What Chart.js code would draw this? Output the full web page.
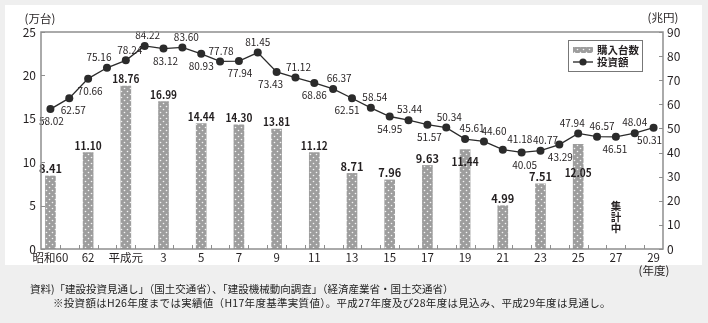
<!DOCTYPE html>
<html lang="ja">
<head>
<meta charset="UTF-8">
<title>建設投資額と建設機械購入台数の推移</title>
<script src="https://cdn.jsdelivr.net/npm/chart.js@4.4.1/dist/chart.umd.min.js"></script>
<style>
  html, body { margin: 0; padding: 0; background: #fff; }
  #wrap { position: relative; width: 708px; height: 323px; font-family: "Noto Sans CJK JP", sans-serif; }
  canvas { display: block; }
  .note { position: absolute; font-size: 10.5px; color: #222; white-space: nowrap; line-height: 1; }
</style>
</head>
<body>
<div id="wrap">
  <canvas id="chart" width="708" height="323"></canvas>
  <div class="note" style="left:30px; top:284px;">資料)「建設投資見通し」（国土交通省）、「建設機械動向調査」（経済産業省・国土交通省）</div>
  <div class="note" style="left:53px; top:298px; letter-spacing:0.3px;">※投資額はH26年度までは実績値（H17年度基準実質値）。平成27年度及び28年度は見込み、平成29年度は見通し。</div>
</div>
<script>
// 年度（昭和60年度〜平成29年度）
const years = ['昭和60', '61', '62', '63', '平成元', '2', '3', '4', '5', '6', '7', '8', '9', '10',
  '11', '12', '13', '14', '15', '16', '17', '18', '19', '20', '21', '22', '23', '24', '25', '26',
  '27', '28', '29'];

// 建設機械 購入台数（万台）: 隔年調査
const units = [8.41, null, 11.10, null, 18.76, null, 16.99, null, 14.44, null, 14.30, null,
  13.81, null, 11.12, null, 8.71, null, 7.96, null, 9.63, null, 11.44, null, 4.99, null,
  7.51, null, 12.05, null, null, null, null];

// 建設投資額（兆円）
const invest = [58.02, 62.57, 70.66, 75.16, 78.24, 84.22, 83.12, 83.60, 80.93, 77.78, 77.94,
  81.45, 73.43, 71.12, 68.86, 66.37, 62.51, 58.54, 54.95, 53.44, 51.57, 50.34, 45.61, 44.60,
  41.18, 40.05, 40.77, 43.29, 47.94, 46.57, 46.51, 48.04, 50.31];

const unitTicks = [0, 5, 10, 15, 20, 25];
const investTicks = [0, 10, 20, 30, 40, 50, 60, 70, 80, 90];

// 投資額ラベルの上下（a: 上, b: 下）と横ずれ
const investLabelPos = ['b', 'b', 'b', 'a', 'a', 'a', 'b', 'a', 'b', 'a', 'b', 'a', 'b', 'a', 'b',
  'a', 'b', 'a', 'b', 'a', 'b', 'a', 'a', 'a', 'a', 'b', 'a', 'b', 'a', 'a', 'b', 'a', 'b'];
const investLabelDx = [1, 4, 2, -8, 4, 3, 2, 4, 0, 1, 1, 0, -6, 3, 0, 6, -5, 4, 0, 1, 2, 3, 7, 10,
  17, 3, 5, 1, -6, 5, -1, 0, -4];
// 台数ラベルは折れ線と重なる年だけ棒の中へ下げる
const barLabelDy = { 22: 12, 28: 28 };

const FONT = '"Noto Sans CJK JP", "Noto Sans", sans-serif';
const TEXT = '#231f20';
const FRAME = '#8e8e8e';

// 棒の網点パターン
function dotPattern() {
  const c = document.createElement('canvas');
  c.width = 6; c.height = 6;
  const g = c.getContext('2d');
  g.fillStyle = '#9d9d9d';
  g.fillRect(0, 0, 6, 6);
  g.fillStyle = '#f4f4f4';
  [[1.5, 1.5], [4.5, 4.5]].forEach(([x, y]) => {
    g.beginPath(); g.arc(x, y, 0.8, 0, Math.PI * 2); g.fill();
  });
  return g.createPattern(c, 'repeat');
}

const ctx = document.getElementById('chart').getContext('2d');
const pattern = dotPattern();

// 背景
const background = {
  id: 'background',
  beforeDraw(chart) {
    const g = chart.ctx;
    g.save();
    g.fillStyle = '#efefef';
    g.fillRect(0, 0, chart.width, chart.height);
    g.fillStyle = '#ffffff';
    g.fillRect(5, 5, 697, 260);
    g.restore();
  }
};

// 枠線・内向き目盛・軸見出し・凡例・集計中
const frame = {
  id: 'frame',
  afterDraw(chart) {
    const g = chart.ctx;
    const a = chart.chartArea;
    const x = chart.scales.x, yL = chart.scales.yL, yR = chart.scales.yR;
    g.save();
    g.strokeStyle = FRAME;
    g.lineWidth = 1.5;
    g.strokeRect(a.left, a.top, a.right - a.left, a.bottom - a.top);

    g.lineWidth = 1;
    g.beginPath();
    unitTicks.forEach(v => {
      const y = Math.round(yL.getPixelForValue(v)) + 0.5;
      g.moveTo(a.left, y); g.lineTo(a.left + 4, y);
    });
    investTicks.forEach(v => {
      const y = Math.round(yR.getPixelForValue(v)) + 0.5;
      g.moveTo(a.right, y); g.lineTo(a.right - 4, y);
    });
    const step = (a.right - a.left) / years.length;
    for (let i = 1; i < years.length; i++) {
      const xx = Math.round(a.left + step * i) + 0.5;
      g.moveTo(xx, a.bottom); g.lineTo(xx, a.bottom - 4);
    }
    g.stroke();

    g.fillStyle = TEXT;
    g.font = '11.5px ' + FONT;
    g.textBaseline = 'middle';
    g.textAlign = 'center';
    g.fillText('(万台)', 40, 19);
    g.fillText('(兆円)', 663, 18);
    g.fillText('(年度)', 654, 271);

    // 平成27年度は集計中
    g.font = 'bold 10.5px ' + FONT;
    const cx = x.getPixelForValue(30);
    ['集', '計', '中'].forEach((ch, k) => g.fillText(ch, cx, 206 + k * 11));

    // 凡例
    g.fillStyle = '#fff';
    g.fillRect(568.5, 40.5, 74, 31);
    g.strokeStyle = '#777';
    g.lineWidth = 1;
    g.strokeRect(568.5, 40.5, 74, 31);
    g.fillStyle = pattern;
    g.fillRect(573, 47, 20, 6);
    g.strokeStyle = '#222';
    g.lineWidth = 1.3;
    g.beginPath(); g.moveTo(573, 62); g.lineTo(593, 62); g.stroke();
    g.fillStyle = '#2b2b2b';
    g.beginPath(); g.arc(583, 62, 3.6, 0, Math.PI * 2); g.fill();
    g.fillStyle = TEXT;
    g.textAlign = 'left';
    g.font = 'bold 10.5px ' + FONT;
    g.fillText('購入台数', 597, 50);
    g.fillText('投資額', 597, 62);
    g.restore();
  }
};

// データラベル（細めの字幅に詰める）
const valueLabels = {
  id: 'valueLabels',
  afterDatasetsDraw(chart) {
    const g = chart.ctx;
    const lineMeta = chart.getDatasetMeta(0);
    const barMeta = chart.getDatasetMeta(1);
    g.save();
    g.fillStyle = TEXT;
    g.textAlign = 'center';
    g.textBaseline = 'middle';
    g.font = 'bold 11px ' + FONT;
    barMeta.data.forEach((bar, i) => {
      if (units[i] == null) return;
      const dy = barLabelDy[i] !== undefined ? barLabelDy[i] : -7;
      g.fillText(units[i].toFixed(2), bar.x, bar.y + dy, 27);
    });
    g.font = '11px ' + FONT;
    lineMeta.data.forEach((pt, i) => {
      const dy = investLabelPos[i] === 'a' ? -11 : 12;
      g.fillText(invest[i].toFixed(2), pt.x + investLabelDx[i], pt.y + dy, 25);
    });
    g.restore();
  }
};

new Chart(ctx, {
  data: {
    labels: years,
    datasets: [
      {
        type: 'line',
        label: '投資額',
        data: invest,
        yAxisID: 'yR',
        borderColor: '#2b2b2b',
        borderWidth: 1.3,
        pointRadius: 4,
        pointBackgroundColor: '#2b2b2b',
        pointBorderWidth: 0,
        tension: 0,
        order: 0
      },
      {
        type: 'bar',
        label: '購入台数',
        data: units,
        yAxisID: 'yL',
        backgroundColor: pattern,
        barThickness: 10,
        order: 1
      }
    ]
  },
  options: {
    responsive: false,
    animation: false,
    layout: { padding: { top: 32, left: 0, right: 0, bottom: 0 } },
    plugins: { legend: { display: false }, tooltip: { enabled: false } },
    scales: {
      x: {
        offset: true,
        grid: { display: false, drawTicks: false },
        border: { display: false },
        ticks: {
          autoSkip: false,
          maxRotation: 0,
          padding: 2,
          color: TEXT,
          font: { family: FONT, size: 11.5 },
          callback: (v, i) => (i % 2 === 0 ? years[i] : '')
        },
        afterFit: s => { s.height = 74; }
      },
      yL: {
        position: 'left',
        min: 0,
        max: 25,
        grid: { display: false, drawTicks: false },
        border: { display: false },
        ticks: { stepSize: 5, padding: 5, color: TEXT, font: { family: FONT, size: 12 } },
        afterFit: s => { s.width = 41; }
      },
      yR: {
        position: 'right',
        min: 0,
        max: 90,
        grid: { display: false, drawTicks: false },
        border: { display: false },
        ticks: { stepSize: 10, padding: 4, color: TEXT, font: { family: FONT, size: 12 } },
        afterFit: s => { s.width = 45; }
      }
    }
  },
  plugins: [background, valueLabels, frame]
});
</script>
</body>
</html>
